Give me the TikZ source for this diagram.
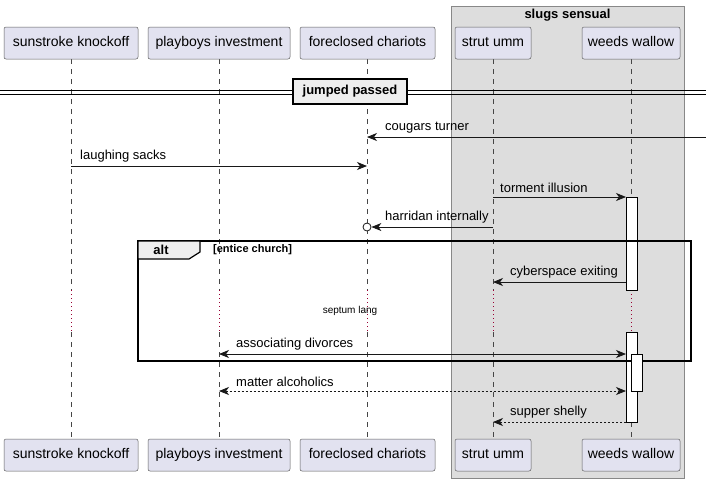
\documentclass[tikz,border=0pt]{standalone}
\usepackage{fontspec}
\setmainfont{Liberation Sans}
\usetikzlibrary{arrows.meta}
\definecolor{partfill}{HTML}{E2E2F0}
\definecolor{partline}{HTML}{181818}
\definecolor{grpfill}{HTML}{DDDDDD}
\definecolor{grpline}{HTML}{888888}
\definecolor{tabfill}{HTML}{EEEEEE}
\definecolor{delayc}{HTML}{990033}
\tikzset{
  part/.style={draw=partline!70, line width=0.5pt, fill=partfill, rounded corners=2pt, minimum height=32pt, inner sep=0pt, text height=10.5pt, text depth=3pt, font=\fontsize{14}{16}\selectfont},
  lifeline/.style={draw=partline!80, line width=0.5pt, dash pattern=on 5pt off 5pt},
  delayline/.style={draw=delayc, line width=0.6pt, dash pattern=on 1pt off 3pt},
  msg/.style={draw=partline, line width=0.8pt, -{Stealth[length=10pt,width=8pt,inset=3pt]}},
  bimsg/.style={draw=partline, line width=0.8pt, {Stealth[length=10pt,width=8pt,inset=3pt]}-{Stealth[length=10pt,width=8pt,inset=3pt]}},
  retmsg/.style={msg, dash pattern=on 2pt off 2pt},
  biret/.style={bimsg, dash pattern=on 2pt off 2pt},
  lbl/.style={anchor=south west, inner sep=0pt, font=\fontsize{13}{15}\selectfont},
  actbox/.style={draw=black, line width=0.8pt, fill=white},
}
\begin{document}
\begin{tikzpicture}[x=1pt,y=-1pt]
\useasboundingbox (0,0) rectangle (706,480);
\fill[white] (0,0) rectangle (706,480);
% group box
\draw[fill=grpfill, draw=grpline, line width=0.8pt] (451,6) rectangle (684,478);
\node[font=\bfseries\fontsize{13}{15}\selectfont, inner sep=0pt] (grptitle) at (567.5,15) {slugs sensual};
% lifelines
\foreach \x/\n in {71/a,219/b,367/c,493/d,631/e}{
  \coordinate (\n top) at (\x,59);
  \coordinate (\n d1) at (\x,290);
  \coordinate (\n d2) at (\x,332);
  \coordinate (\n bot) at (\x,439);
  \draw[lifeline] (\n top) -- (\n d1);
  \draw[delayline] (\n d1) -- (\n d2);
  \draw[lifeline] (\n d2) -- (\n bot);
}
% participants
\node[part, minimum width=134pt] (p1) at (71,43) {sunstroke knockoff};
\node[part, minimum width=142pt] (p2) at (219,43) {playboys investment};
\node[part, minimum width=135pt] (p3) at (367.5,43) {foreclosed chariots};
\node[part, minimum width=76pt] (p4) at (493,43) {strut umm};
\node[part, minimum width=98pt] (p5) at (631,43) {weeds wallow};
\node[part, minimum width=134pt] (q1) at (71,455) {sunstroke knockoff};
\node[part, minimum width=142pt] (q2) at (219,455) {playboys investment};
\node[part, minimum width=135pt] (q3) at (367.5,455) {foreclosed chariots};
\node[part, minimum width=76pt] (q4) at (493,455) {strut umm};
\node[part, minimum width=98pt] (q5) at (631,455) {weeds wallow};
% divider
\coordinate (dl) at (0,92);
\coordinate (dr) at (706,92);
\draw[line width=0.8pt] (0,90) -- (706,90);
\draw[line width=0.8pt] (0,94) -- (706,94);
\node[draw=black, line width=1.6pt, fill=tabfill, minimum width=114pt, minimum height=25pt, inner sep=0pt, font=\bfseries\fontsize{13}{15}\selectfont] (div) at (350,91.5) {jumped passed};
% activations
\node[actbox, minimum width=11pt, minimum height=93pt, inner sep=0pt] (act1) at (631.5,243.5) {};
\node[actbox, minimum width=11pt, minimum height=90pt, inner sep=0pt] (act1b) at (631.5,377) {};
% messages
\coordinate (found) at (706,137);
\coordinate (c137) at (367,137);
\draw[msg] (found) -- (c137);
\node[lbl] (l1) at (385,133) {cougars turner};
\coordinate (a166) at (71,166);
\coordinate (c166) at (367,166);
\draw[msg] (a166) -- (c166);
\node[lbl] (l2) at (80,162) {laughing sacks};
\coordinate (d197) at (493,197);
\coordinate (e197) at (626,197);
\draw[msg] (d197) -- (e197);
\node[lbl] (l3) at (500,193) {torment illusion};
\coordinate (d227) at (493,227);
\node[circle, draw=partline, line width=0.8pt, fill=white, minimum size=8pt, inner sep=0pt] (circ) at (367,227) {};
\draw[msg] (d227) -- (circ.east);
\node[lbl] (l4) at (385,223) {harridan internally};
% alt frame
\draw[line width=1.2pt] (138,241) rectangle (691,361);
\draw[line width=1.2pt, fill=tabfill] (138,241) -- (200,241) -- (200,252) -- (189,259) -- (138,259) -- cycle;
\node[font=\bfseries\fontsize{13}{15}\selectfont, inner sep=0pt] (altl) at (161,250) {alt};
\node[font=\bfseries\fontsize{11}{13}\selectfont, inner sep=0pt, anchor=west] (guard) at (213,250) {[entice church]};
\coordinate (e282) at (626,282);
\coordinate (d282) at (493,282);
\draw[msg] (e282) -- (d282);
\node[lbl] (l5) at (510,278) {cyberspace exiting};
\node[font=\fontsize{10}{12}\selectfont, inner sep=0pt] (delay) at (350,311) {septum lang};
\coordinate (b354) at (219,354);
\coordinate (e354) at (626,354);
\draw[bimsg] (b354) -- (e354);
\node[lbl] (l6) at (236,350) {associating divorces};
\node[actbox, minimum width=11pt, minimum height=37pt, inner sep=0pt] (act2) at (637,372.5) {};
\coordinate (b391) at (219,391);
\coordinate (e391) at (626,391);
\draw[biret] (b391) -- (e391);
\node[lbl] (l7) at (236,387) {matter alcoholics};
\coordinate (e422) at (626,422);
\coordinate (d422) at (493,422);
\draw[retmsg] (e422) -- (d422);
\node[lbl] (l8) at (510,418) {supper shelly};
\end{tikzpicture}
\end{document}
